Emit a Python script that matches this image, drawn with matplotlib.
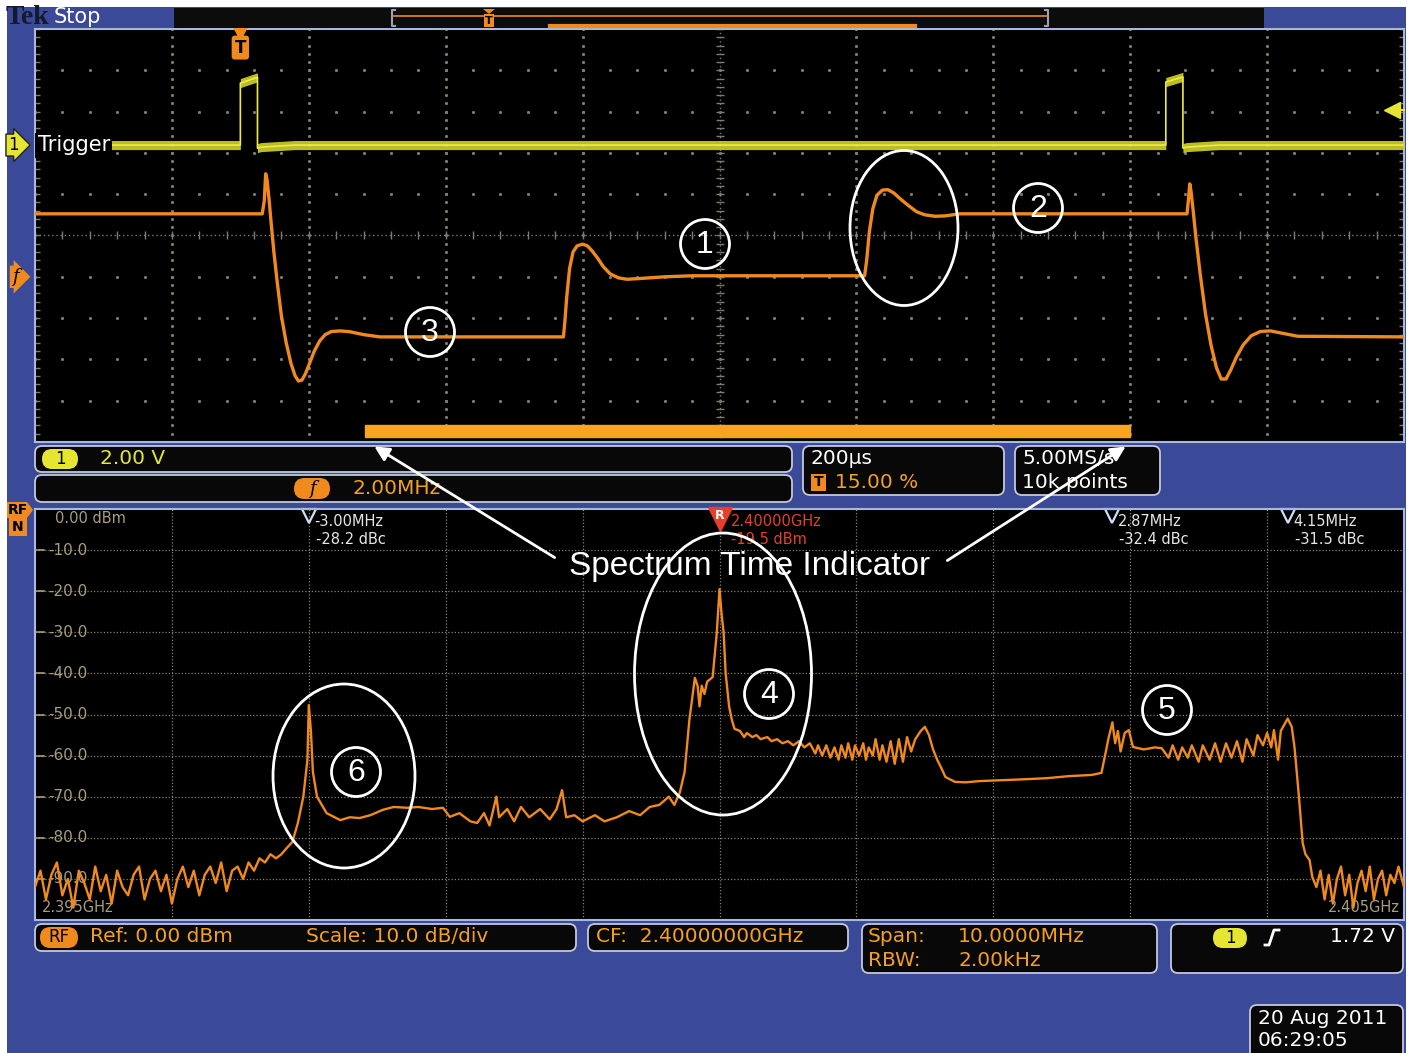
import matplotlib
matplotlib.use('Agg')
import matplotlib.pyplot as plt
import matplotlib.transforms as mtransforms
from matplotlib.patches import FancyBboxPatch, Ellipse, Rectangle, Polygon
import numpy as np

# ---- data ---------------------------------------------------------------------
# upper window: frequency-vs-time trace (time in us, 200 us/div; freq offset in MHz, 2.00 MHz/div)
freq_t = [-300, 32, 35, 37, 39, 42, 45, 49, 54, 60, 67, 74, 80, 85, 90, 95, 101, 108, 116, 124, 133,
          146, 160, 180, 204,
          472, 474, 477, 481, 486, 492, 500, 507, 514, 522, 530, 540, 552, 565, 585, 620, 660,
          912, 915, 919, 924, 930, 938, 946, 955, 965, 976, 988, 1000, 1015, 1030, 1051,
          1383, 1385, 1387, 1389, 1392, 1396, 1402, 1410, 1418, 1426, 1433, 1440, 1447, 1455, 1465,
          1477, 1490, 1505, 1520, 1545, 1700]
freq_mhz = [3.05, 3.05, 3.7, 4.99, 4.7, 3.73, 2.6, 1.2, -0.3, -1.9, -3.2, -4.2, -4.8, -5.05, -5.0, -4.7,
            -4.2, -3.6, -3.1, -2.8, -2.65, -2.62, -2.66, -2.8, -2.91,
            -2.91, -2.2, -0.9, 0.4, 1.2, 1.5, 1.58, 1.5, 1.25, 0.9, 0.5, 0.15, -0.05, -0.12, -0.08, 0.0, 0.05,
            0.05, 0.8, 2.2, 3.3, 3.95, 4.2, 4.22, 4.05, 3.75, 3.45, 3.15, 3.0, 2.93, 2.95, 3.05,
            3.05, 3.7, 4.5, 4.1, 3.2, 1.9, 0.2, -1.8, -3.3, -4.4, -4.95, -4.95, -4.5, -3.9, -3.3,
            -2.85, -2.65, -2.62, -2.72, -2.88, -2.91]

# channel 1 trigger pulse (V, 2.00 V/div)
trig_t = [-300, 0, 0, 25, 25, 30, 80, 1352, 1352, 1377, 1377, 1382, 1430, 1700]
trig_v = [0.0, 0.0, 3.0, 3.28, -0.15, -0.1, 0.0, 0.0, 3.05, 3.3, -0.15, -0.1, 0.0, 0.0]
trigger_level = 1.72
spectrum_time = [182, 1299]   # us, orange bar

# lower window: spectrum, offset from CF in MHz, level in dBm
cf_ghz = 2.4
span_mhz = 10.0
spec_f = [-5.00, -4.96, -4.92, -4.88, -4.84, -4.80, -4.76, -4.72, -4.68, -4.64, -4.60, -4.56, -4.52, -4.48,
          -4.44, -4.40, -4.36, -4.32, -4.28, -4.24, -4.20, -4.16, -4.12, -4.08, -4.04, -4.00, -3.96, -3.92,
          -3.88, -3.84, -3.80, -3.76, -3.72, -3.68, -3.64, -3.60, -3.56, -3.52, -3.48, -3.44, -3.40, -3.36,
          -3.32, -3.28, -3.24, -3.20, -3.175, -3.12, -3.08, -3.04, -3.01, -3.00, -2.985, -2.97, -2.94, -2.87,
          -2.77, -2.70, -2.63, -2.55, -2.46, -2.38, -2.28, -2.20, -2.10, -2.02, -1.97, -1.90, -1.82, -1.77,
          -1.72, -1.68, -1.63, -1.61, -1.55, -1.50, -1.45, -1.39, -1.31, -1.24, -1.19, -1.15, -1.12, -1.06,
          -1.00, -0.91, -0.84, -0.75, -0.66, -0.58, -0.51, -0.44, -0.37, -0.33, -0.29, -0.255, -0.22, -0.18,
          -0.16, -0.146, -0.13, -0.11, -0.09, -0.05, -0.02, 0.0, 0.015, 0.03, 0.045, 0.07, 0.09, 0.11,
          0.15, 0.18, 0.20, 0.24, 0.27, 0.30, 0.35, 0.38, 0.42, 0.46, 0.50, 0.54, 0.58, 0.62, 0.66, 0.70,
          0.72, 0.75, 0.78, 0.81, 0.84, 0.87, 0.89, 0.92, 0.94, 0.97, 0.99, 1.02, 1.05, 1.07, 1.09, 1.12,
          1.14, 1.17, 1.19, 1.22, 1.25, 1.28, 1.31, 1.34, 1.37, 1.40, 1.43, 1.47, 1.50, 1.53, 1.56, 1.59,
          1.62, 1.65, 1.72, 1.80, 1.90, 2.05, 2.20, 2.39, 2.55, 2.72, 2.79, 2.82, 2.84, 2.87, 2.89, 2.91,
          2.93, 2.96, 2.99, 3.02, 3.10, 3.18, 3.23, 3.28, 3.31, 3.35, 3.38, 3.42, 3.45, 3.50, 3.53, 3.58,
          3.62, 3.66, 3.70, 3.74, 3.78, 3.82, 3.85, 3.90, 3.93, 3.97, 4.00, 4.03, 4.05, 4.08, 4.10, 4.15,
          4.18, 4.20, 4.23, 4.26, 4.28, 4.31, 4.33, 4.36, 4.39, 4.42, 4.45, 4.48, 4.51, 4.54, 4.57, 4.60,
          4.63, 4.66, 4.69, 4.72, 4.75, 4.78, 4.81, 4.84, 4.87, 4.90, 4.93, 4.96, 5.00]
spec_dbm = [-92, -88, -95, -89, -86, -94, -90, -97, -88, -91, -95, -87, -93, -89,
            -96, -88, -92, -94, -89, -87, -95, -90, -88, -93, -89, -96, -90, -87,
            -92, -88, -94, -89, -87, -91, -86, -93, -88, -87, -90, -86, -88, -85,
            -86, -84, -85, -84, -83, -81, -76.4, -70, -61, -47.7, -53.8, -64, -70, -74,
            -75.7, -75, -75.2, -74.5, -73.2, -72.5, -72.7, -72.5, -73, -72.7, -74.9, -74, -76, -76.4,
            -74, -77, -70, -75, -73, -76, -72.5, -75, -73, -75.5, -73, -68.4, -75, -74.5,
            -76, -74.5, -76, -75, -73.5, -74.5, -72.5, -72, -70, -72, -69, -64, -51.3, -41.1,
            -43, -48, -43, -45, -42, -40.9, -30.2, -19.5, -25.5, -30, -40, -48, -51.3, -53.5,
            -54, -55.5, -54.5, -55.5, -55, -56, -55.5, -56.5, -56, -57, -56.5, -57.5, -56.5, -58, -57, -59.5,
            -57.5, -60, -57.5, -60.5, -58, -61, -57.5, -60.5, -57, -61, -57.5, -60, -57, -61, -58, -60,
            -56, -61, -57.5, -61.5, -56.5, -62, -56, -61.5, -55.5, -59, -56, -54, -53, -55, -58.5, -61,
            -63, -65.2, -66.4, -66.5, -66.2, -66, -65.8, -65.5, -65, -64.7, -64.2, -59.4, -56, -51.9, -57, -54,
            -59, -54.5, -53.8, -57.9, -58.5, -58, -58.2, -60.5, -57.5, -61, -58, -60.5, -57.5, -61.5, -57.5, -61,
            -57, -61.5, -57, -60.5, -56.5, -61.5, -56, -60, -55, -57.5, -54.5, -58, -53.8, -61, -54, -51.0,
            -53, -57.9, -69, -81.3, -84, -85.4, -89.5, -92, -88, -95, -89, -96, -90, -87, -94, -89,
            -97, -91, -88, -93, -87, -95, -90, -88, -94, -89, -91, -87, -92]

marker_f = [-3.00, 2.87, 4.15]
marker_dbc = [-28.2, -32.4, -31.5]
ref_f = 0.0
ref_dbm = -19.5
db_levels = [-10, -20, -30, -40, -50, -60, -70, -80, -90]

# ---- colours ------------------------------------------------------------------
BLUE = '#3a4a98'
ORANGE = '#f08a1c'
OTXT = '#f2a020'
YELLOW = '#e6e632'
TAN = '#a89e7e'
EDGE = '#c4c8da'
PANEL = '#a8b8e0'

plt.rcParams['font.family'] = 'DejaVu Sans'

W, H = 1410, 1053
fig = plt.figure(figsize=(W / 100, H / 100), dpi=100)
fig.patch.set_facecolor('white')


def fr(x0, y0, x1, y1):
    return [x0 / W, 1 - y1 / H, (x1 - x0) / W, (y1 - y0) / H]


bg = fig.add_axes([0, 0, 1, 1], zorder=0)
bg.set_xlim(0, W); bg.set_ylim(H, 0); bg.axis('off')
bg.add_patch(Rectangle((7, 7), 1399, 1046, fc=BLUE, ec='none'))

# ---- upper window ------------------------------------------------------------
ax = fig.add_axes(fr(35, 29, 1404, 442), zorder=2)
ax.set_facecolor('black')
ax.set_xlim(-300, 1700)
ax.set_ylim(-8, 12)
ax.set_xticks([]); ax.set_yticks([])
for s in ax.spines.values():
    s.set_color(PANEL); s.set_linewidth(1.5)

GC = '#7c7c70'
xs_minor = np.arange(-300, 1701, 40)
ys_minor = np.arange(-8, 12.01, 0.4)
for t in np.arange(-100, 1700, 200):
    if t != 700:
        ax.plot(np.full_like(ys_minor, t), ys_minor, ls='none', marker='s', ms=1.1, color=GC)
for f in np.arange(-6, 12, 2):
    if f != 2:
        ax.plot(xs_minor, np.full_like(xs_minor, f, dtype=float), ls='none', marker='s', ms=1.1, color=GC)
# centre crosshair
ax.axvline(700, color=GC, lw=1, ls=(0, (1, 2)))
ax.axhline(2, color=GC, lw=1, ls=(0, (1, 2)))
ax.plot(np.full_like(ys_minor, 700), ys_minor, ls='none', marker='_', ms=6, color=GC)
ax.plot(xs_minor, np.full_like(xs_minor, 2, dtype=float), ls='none', marker='|', ms=6, color=GC)
# edge ticks
ax.plot(np.full_like(ys_minor, -300), ys_minor, ls='none', marker='_', ms=7, color=GC)
ax.plot(np.full_like(ys_minor, 1700), ys_minor, ls='none', marker='_', ms=7, color=GC)

ax.plot(freq_t, freq_mhz, color=ORANGE, lw=2.4, zorder=5)
ax.axvspan(spectrum_time[0], spectrum_time[1], ymin=0.012, ymax=0.041, color='#f8a41c', zorder=6)

bx = mtransforms.blended_transform_factory(ax.transData, ax.transAxes)
by = mtransforms.blended_transform_factory(ax.transAxes, ax.transData)
ax.plot([0], [0.99], marker='v', ms=10, color=ORANGE, transform=bx, clip_on=False, zorder=7)
ax.text(0, 0.955, 'T', transform=bx, ha='center', va='center', fontsize=12, fontweight='bold',
        color='black', bbox=dict(boxstyle='round,pad=0.18', fc=ORANGE, ec='none'), zorder=7)
ax.text(-0.012, 0.0, 'f', transform=by, ha='right', va='center', fontsize=13, style='italic',
        family='DejaVu Serif', color='black', clip_on=False,
        bbox=dict(boxstyle='rarrow,pad=0.12', fc=ORANGE, ec='none'))

axt = ax.twinx()
axt.set_zorder(3)
axt.patch.set_visible(False)
axt.set_ylim(-14.38, 5.62)
axt.axis('off')
# noisy trace band: thick horizontally, thin on the vertical edges
tv = np.array(trig_v)
axt.fill_between(trig_t, tv - 0.22, tv + 0.22, color='#d2d22a', lw=0, alpha=0.9)
axt.plot(trig_t, trig_v, color='#ecec48', lw=1.2)
byt = mtransforms.blended_transform_factory(axt.transAxes, axt.transData)
axt.text(0.002, 0.0, 'Trigger', transform=byt, ha='left', va='center', fontsize=15, color='white',
         bbox=dict(boxstyle='square,pad=0.12', fc='black', ec='none'), zorder=8)
axt.text(-0.012, 0.0, '1', transform=byt, ha='right', va='center', fontsize=12, color='black',
         clip_on=False, bbox=dict(boxstyle='rarrow,pad=0.12', fc=YELLOW, ec='#222'))
axt.plot([0.991], [trigger_level], marker='<', ms=11, color=YELLOW, transform=byt, clip_on=False)
axt.plot([0.991, 1.0], [trigger_level] * 2, color=YELLOW, lw=1.5, transform=byt, clip_on=False)

# ---- lower window: spectrum --------------------------------------------------
sp = fig.add_axes(fr(35, 509, 1404, 920), zorder=2)
sp.set_facecolor('black')
sp.set_xlim(-span_mhz / 2, span_mhz / 2)
sp.set_ylim(-100, 0)
sp.set_xticks([]); sp.set_yticks([])
for s in sp.spines.values():
    s.set_color(PANEL); s.set_linewidth(1.5)
SG = '#8a8264'
for f in range(-4, 5):
    sp.axvline(f, color=SG, lw=0.9, ls=(0, (1, 1.6)))
for d in db_levels:
    sp.axhline(d, color=SG, lw=0.9, ls=(0, (1, 1.6)))

sby = mtransforms.blended_transform_factory(sp.transAxes, sp.transData)
sbx = mtransforms.blended_transform_factory(sp.transData, sp.transAxes)
sp.text(0.0146, -2.3, '0.00 dBm', transform=sby, color=TAN, fontsize=10.5, va='center')
for d in db_levels:
    sp.plot([0.0015, 0.0066], [d, d], color=TAN, lw=1.2, transform=sby)
    sp.text(0.0095, d, f'{d:.1f}', transform=sby, color=TAN, fontsize=11, va='center')
sp.text(0.005, 0.012, f'{cf_ghz - span_mhz / 2000:.3f}GHz', transform=sp.transAxes, color=TAN,
        fontsize=10.5, va='bottom')
sp.text(0.997, 0.012, f'{cf_ghz + span_mhz / 2000:.3f}GHz', transform=sp.transAxes, color=TAN,
        fontsize=10.5, va='bottom', ha='right')

sp.plot(spec_f, spec_dbm, color=ORANGE, lw=1.7, zorder=5)

for f, d in zip(marker_f, marker_dbc):
    sp.plot([f], [0.982], marker='v', ms=10, mfc='none', mec='#cfe0f4', mew=1.6, transform=sbx,
            clip_on=False)
    sp.annotate(f'{f:.2f}MHz', xy=(f, 1), xycoords=sbx, xytext=(4, -9), textcoords='offset points',
                color='#e6e6e6', fontsize=10.5, va='center')
    sp.annotate(f'{d:.1f} dBc', xy=(f, 1), xycoords=sbx, xytext=(5, -22), textcoords='offset points',
                color='#e6e6e6', fontsize=10.5, va='center')
RED = '#e6402a'
sp.plot([ref_f], [0.975], marker='v', ms=17, color=RED, transform=sbx, clip_on=False, zorder=6)
sp.text(ref_f, 0.985, 'R', transform=sbx, color='white', fontsize=9, fontweight='bold', ha='center',
        va='center', zorder=7)
sp.annotate(f'{cf_ghz:.5f}GHz', xy=(ref_f, 1), xycoords=sbx, xytext=(8, -9), textcoords='offset points',
            color=RED, fontsize=10.5, va='center')
sp.annotate(f'{ref_dbm:.1f} dBm', xy=(ref_f, 1), xycoords=sbx, xytext=(8, -22), textcoords='offset points',
            color=RED, fontsize=10.5, va='center')

# ---- overlay: readouts, header and annotations ---------------------------------
ov = fig.add_axes([0, 0, 1, 1], zorder=10)
ov.set_xlim(0, W); ov.set_ylim(H, 0); ov.axis('off')
ov.patch.set_visible(False)


def rbox(x0, y0, x1, y1, r=7, fc='#080808', ec=EDGE, lw=1.3):
    ov.add_patch(FancyBboxPatch((x0 + r, y0 + r), x1 - x0 - 2 * r, y1 - y0 - 2 * r,
                                boxstyle=f'round,pad={r}', fc=fc, ec=ec, lw=lw))


def pill(x0, y0, x1, y1, fc, label, **kw):
    r = (y1 - y0) / 2
    ov.add_patch(FancyBboxPatch((x0 + r, y0 + r), x1 - x0 - 2 * r, 0.01,
                                boxstyle=f'round,pad={r}', fc=fc, ec='none'))
    ov.text((x0 + x1) / 2, (y0 + y1) / 2, label, ha='center', va='center', color='black', **kw)


def txt(x, y, s, c='white', size=14, ha='left', **kw):
    ov.text(x, y, s, color=c, fontsize=size, ha=ha, va='center', **kw)


# header
txt(6, 17, 'Tek', c='#141830', size=20, family='Liberation Serif', fontweight='bold')
txt(54, 17, 'Stop', size=15)
ov.add_patch(Rectangle((174, 8), 1090, 20, fc='#0c0c0c', ec='none'))
ov.plot([395, 392, 392, 395], [10, 10, 26, 26], color='#a0a0b0', lw=1.5)
ov.plot([1045, 1048, 1048, 1045], [10, 10, 26, 26], color='#a0a0b0', lw=1.5)
ov.plot([394, 1046], [16, 16], color=ORANGE, lw=1.2)
ov.plot([550, 915], [26, 26], color=ORANGE, lw=3)
ov.add_patch(Polygon([(483, 9), (495, 9), (489, 14)], fc=ORANGE, ec='none'))
ov.add_patch(Rectangle((484, 14), 10, 13, fc=ORANGE, ec='none'))
txt(489, 20.5, 'T', c='black', size=8, ha='center', fontweight='bold')

# readouts under the upper window
rbox(35, 446, 792, 472)
pill(42, 449, 78, 469, YELLOW, '1', fontsize=12)
txt(100, 459, '2.00 V', c=YELLOW, size=14.5)
rbox(35, 475, 792, 502)
pill(294, 478, 330, 499, ORANGE, 'f', fontsize=13, style='italic', family='DejaVu Serif')
txt(352, 489, '2.00MHz', c=OTXT, size=14.5)
rbox(803, 446, 1004, 495)
txt(811, 459, '200µs', size=14.5)
ov.add_patch(Rectangle((811, 474), 15, 17, fc=ORANGE, ec='none'))
txt(818.5, 482.5, 'T', c='black', size=10, ha='center', fontweight='bold')
txt(835, 482, '15.00 %', c=OTXT, size=14.5)
rbox(1015, 446, 1160, 495)
txt(1022, 459, '5.00MS/s', size=14.5)
txt(1022, 482, '10k points', size=14.5)

# RF badge left of spectrum
ov.add_patch(Polygon([(7, 502), (27, 502), (33, 510), (27, 518), (27, 536), (9, 536), (9, 518), (7, 518)],
                     fc=ORANGE, ec='none'))
txt(18, 510, 'RF', c='black', size=10, ha='center', fontweight='bold')
txt(18, 527, 'N', c='black', size=10, ha='center', fontweight='bold')

# readouts under the spectrum
rbox(35, 924, 576, 951)
pill(40, 927, 78, 948, ORANGE, 'RF', fontsize=12)
txt(90, 937, 'Ref: 0.00 dBm', c=OTXT, size=14.5)
txt(306, 937, 'Scale: 10.0 dB/div', c=OTXT, size=14.5)
rbox(588, 924, 848, 951)
txt(596, 937, f'CF:  {cf_ghz:.8f}GHz', c=OTXT, size=14.5)
rbox(862, 924, 1157, 973)
txt(868, 937, 'Span:', c=OTXT, size=14.5)
txt(958, 937, f'{span_mhz:.4f}MHz', c=OTXT, size=14.5)
txt(868, 961, 'RBW:', c=OTXT, size=14.5)
txt(958, 961, '2.00kHz', c=OTXT, size=14.5)
rbox(1171, 924, 1403, 973)
pill(1213, 928, 1247, 948, YELLOW, '1', fontsize=12)
ov.plot([1265, 1269, 1274, 1279], [945, 945, 930, 930], color='white', lw=2)
txt(1395, 937, f'{trigger_level:.2f} V', ha='right', size=14.5)
rbox(1250, 1005, 1403, 1068)
txt(1258, 1019, '20 Aug 2011', size=14.5)
txt(1258, 1041, '06:29:05', size=14.5)

# annotations
for (cx, cy, w, h) in [(904, 228, 108, 155), (723, 674, 177, 282), (344, 776, 142, 184)]:
    ov.add_patch(Ellipse((cx, cy), w, h, fc='none', ec='white', lw=2))
for n, (cx, cy) in enumerate([(705, 244), (1038, 208), (430, 332), (769, 694), (1167, 710), (356, 772)], 1):
    ov.add_patch(Ellipse((cx, cy), 49, 49, fc='none', ec='white', lw=2))
    ov.text(cx, cy + 1, str(n), color='white', fontsize=23, family='Liberation Sans', ha='center', va='center')

ov.text(750, 566, 'Spectrum Time Indicator', color='white', fontsize=24, family='Liberation Sans',
        ha='center', va='center')
ov.annotate('', xy=(372, 445), xytext=(557, 559),
            arrowprops=dict(arrowstyle='-|>', color='white', lw=2, mutation_scale=22))
ov.annotate('', xy=(1128, 445), xytext=(945, 562),
            arrowprops=dict(arrowstyle='-|>', color='white', lw=2, mutation_scale=22))

fig.savefig('out.png', dpi=100, facecolor=fig.get_facecolor())
